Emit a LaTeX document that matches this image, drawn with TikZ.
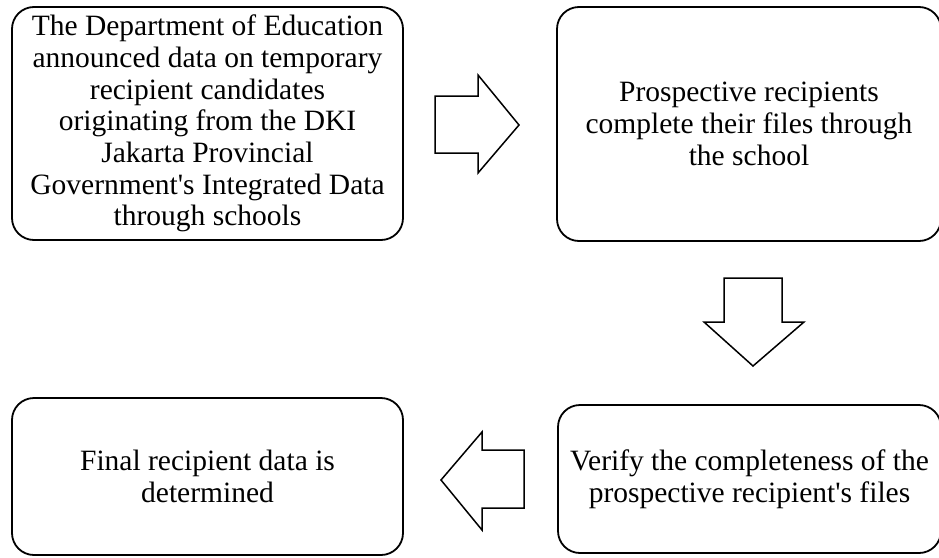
\documentclass[tikz,border=0pt]{standalone}
\usepackage{fontspec}
\setmainfont{Liberation Serif}
\begin{document}
\begin{tikzpicture}[x=1pt,y=-1pt,
  stepbox/.style={draw=black, line width=1.8pt, rounded corners=22pt, align=center,
    font=\fontsize{29.5}{31.7}\selectfont, inner sep=0pt},
  blockarrow/.style={draw=black, line width=1.5pt, fill=white, line join=miter}]
\useasboundingbox (0,0) rectangle (939,557);
\node[stepbox, minimum width=391pt, minimum height=233pt] (a) at (207.5,123.5)
 {The Department of Education\\announced data on temporary\\recipient candidates\\originating from the DKI\\Jakarta Provincial\\Government\textquotesingle s Integrated Data\\through schools};
\node[stepbox, minimum width=384pt, minimum height=234pt] (b) at (749,124)
 {Prospective recipients\\complete their files through\\the school};
\node[stepbox, minimum width=383pt, minimum height=148pt] (c) at (749.5,479)
 {Verify the completeness of the\\prospective recipient\textquotesingle s files};
\node[stepbox, minimum width=391pt, minimum height=157pt] (d) at (207.5,476.5)
 {Final recipient data is\\determined};
% right arrow
\draw[blockarrow] (435,96) -- (478,96) -- (478,75) -- (519,125) -- (478,173) -- (478,153) -- (435,153) -- cycle;
% down arrow
\draw[blockarrow] (724,278) -- (782,278) -- (782,322) -- (804,322) -- (753,366) -- (704,322) -- (724,322) -- cycle;
% left arrow
\draw[blockarrow] (524,450) -- (482,450) -- (482,432) -- (441,480) -- (482,530) -- (482,508) -- (524,508) -- cycle;
\end{tikzpicture}
\end{document}
